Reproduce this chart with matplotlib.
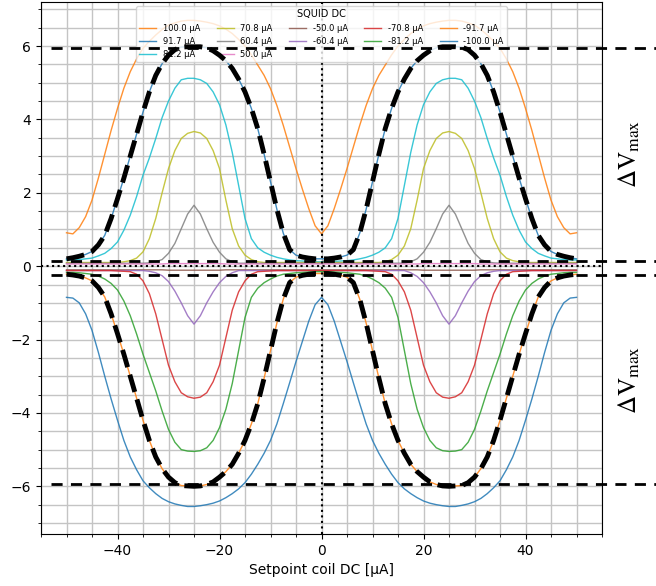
import numpy as np
import matplotlib.pyplot as plt
from matplotlib.ticker import AutoMinorLocator

plt.rcParams['mathtext.fontset'] = 'stix'

# setpoint coil current sweep [uA]
setpoint = np.arange(-50, 50.01, 1.25)

labels = ["100.0 µA", "91.7 µA", "81.2 µA", "70.8 µA", "60.4 µA", "50.0 µA",
          "-50.0 µA", "-60.4 µA", "-70.8 µA", "-81.2 µA", "-91.7 µA", "-100.0 µA"]
colors = ["C1", "C0", "C9", "C8", "C7", "C6", "C5", "C4", "C3", "C2", "C1", "C0"]

v_p1000 = [0.91, 0.88, 1.05, 1.35, 1.80, 2.40, 3.05, 3.70, 4.30, 4.85,
           5.30, 5.65, 5.94, 6.13, 6.30, 6.45, 6.57, 6.63, 6.68, 6.70,
           6.70, 6.68, 6.65, 6.61, 6.55, 6.46, 6.34, 6.18, 6.00, 5.76,
           5.48, 5.20, 4.84, 4.38, 3.84, 3.25, 2.66, 2.10, 1.57, 1.10,
           0.88,
           1.10, 1.57, 2.10, 2.66, 3.25, 3.84, 4.38, 4.84, 5.20, 5.48,
           5.76, 6.00, 6.18, 6.34, 6.46, 6.55, 6.61, 6.65, 6.68, 6.70,
           6.70, 6.68, 6.63, 6.57, 6.45, 6.30, 6.13, 5.94, 5.65, 5.30,
           4.85, 4.30, 3.70, 3.05, 2.40, 1.80, 1.35, 1.05, 0.88, 0.91]
v_p917 = [0.20, 0.23, 0.27, 0.32, 0.40, 0.58, 0.84, 1.30, 1.84, 2.40,
          3.00, 3.60, 4.20, 4.75, 5.20, 5.52, 5.75, 5.90, 5.97, 5.98,
          5.98, 5.98, 5.95, 5.87, 5.75, 5.60, 5.39, 5.10, 4.75, 4.30,
          3.75, 3.05, 2.30, 1.55, 0.90, 0.45, 0.30, 0.25, 0.22, 0.20,
          0.20,
          0.20, 0.22, 0.25, 0.30, 0.45, 0.90, 1.55, 2.30, 3.05, 3.75,
          4.30, 4.75, 5.10, 5.39, 5.60, 5.75, 5.87, 5.95, 5.98, 5.98,
          5.98, 5.97, 5.90, 5.75, 5.52, 5.20, 4.75, 4.20, 3.60, 3.00,
          2.40, 1.84, 1.30, 0.84, 0.58, 0.40, 0.32, 0.27, 0.23, 0.20]
v_p812 = [0.17, 0.17, 0.18, 0.20, 0.22, 0.28, 0.35, 0.48, 0.66, 0.98,
          1.39, 1.90, 2.48, 2.95, 3.48, 4.05, 4.50, 4.85, 5.08, 5.12,
          5.12, 5.08, 4.98, 4.75, 4.40, 3.85, 3.10, 2.20, 1.30, 0.75,
          0.50, 0.38, 0.30, 0.24, 0.20, 0.17, 0.15, 0.14, 0.13, 0.12,
          0.12,
          0.12, 0.13, 0.14, 0.15, 0.17, 0.20, 0.24, 0.30, 0.38, 0.50,
          0.75, 1.30, 2.20, 3.10, 3.85, 4.40, 4.75, 4.98, 5.08, 5.12,
          5.12, 5.08, 4.85, 4.50, 4.05, 3.48, 2.95, 2.48, 1.90, 1.39,
          0.98, 0.66, 0.48, 0.35, 0.28, 0.22, 0.20, 0.18, 0.17, 0.17]
v_p708 = [0.10, 0.10, 0.10, 0.10, 0.10, 0.10, 0.10, 0.10, 0.10, 0.12,
          0.15, 0.22, 0.39, 0.75, 1.30, 2.00, 2.66, 3.15, 3.48, 3.62,
          3.67, 3.63, 3.48, 3.15, 2.66, 1.80, 1.02, 0.55, 0.30, 0.18,
          0.12, 0.10, 0.10, 0.10, 0.10, 0.10, 0.10, 0.10, 0.10, 0.10,
          0.10,
          0.10, 0.10, 0.10, 0.10, 0.10, 0.10, 0.10, 0.10, 0.10, 0.12,
          0.18, 0.30, 0.55, 1.02, 1.80, 2.66, 3.15, 3.48, 3.63, 3.67,
          3.62, 3.48, 3.15, 2.66, 2.00, 1.30, 0.75, 0.39, 0.22, 0.15,
          0.12, 0.10, 0.10, 0.10, 0.10, 0.10, 0.10, 0.10, 0.10, 0.10]
v_p604 = [0.08, 0.08, 0.08, 0.08, 0.08, 0.08, 0.08, 0.08, 0.08, 0.08,
          0.08, 0.08, 0.08, 0.09, 0.12, 0.18, 0.35, 0.62, 1.02, 1.42,
          1.66, 1.42, 1.02, 0.65, 0.38, 0.20, 0.12, 0.08, 0.08, 0.08,
          0.08, 0.08, 0.08, 0.08, 0.08, 0.08, 0.08, 0.08, 0.08, 0.08,
          0.08,
          0.08, 0.08, 0.08, 0.08, 0.08, 0.08, 0.08, 0.08, 0.08, 0.08,
          0.08, 0.08, 0.08, 0.12, 0.20, 0.38, 0.65, 1.02, 1.42, 1.66,
          1.42, 1.02, 0.62, 0.35, 0.18, 0.12, 0.09, 0.08, 0.08, 0.08,
          0.08, 0.08, 0.08, 0.08, 0.08, 0.08, 0.08, 0.08, 0.08, 0.08]
v_p500 = [0.06, 0.06, 0.06, 0.06, 0.06, 0.06, 0.06, 0.06, 0.06, 0.06,
          0.06, 0.06, 0.06, 0.06, 0.06, 0.06, 0.07, 0.07, 0.07, 0.07,
          0.07, 0.07, 0.07, 0.07, 0.07, 0.06, 0.06, 0.06, 0.06, 0.06,
          0.06, 0.06, 0.06, 0.06, 0.06, 0.06, 0.06, 0.06, 0.06, 0.06,
          0.06,
          0.06, 0.06, 0.06, 0.06, 0.06, 0.06, 0.06, 0.06, 0.06, 0.06,
          0.06, 0.06, 0.06, 0.06, 0.06, 0.07, 0.07, 0.07, 0.07, 0.07,
          0.07, 0.07, 0.07, 0.07, 0.06, 0.06, 0.06, 0.06, 0.06, 0.06,
          0.06, 0.06, 0.06, 0.06, 0.06, 0.06, 0.06, 0.06, 0.06, 0.06]
v_n500 = [-0.10, -0.10, -0.10, -0.10, -0.10, -0.10, -0.10, -0.10, -0.10, -0.10,
          -0.10, -0.10, -0.10, -0.10, -0.10, -0.10, -0.11, -0.11, -0.11, -0.11,
          -0.11, -0.11, -0.11, -0.11, -0.11, -0.10, -0.10, -0.10, -0.10, -0.10,
          -0.10, -0.10, -0.10, -0.10, -0.10, -0.10, -0.10, -0.10, -0.10, -0.10,
          -0.10,
          -0.10, -0.10, -0.10, -0.10, -0.10, -0.10, -0.10, -0.10, -0.10, -0.10,
          -0.10, -0.10, -0.10, -0.10, -0.10, -0.11, -0.11, -0.11, -0.11, -0.11,
          -0.11, -0.11, -0.11, -0.11, -0.10, -0.10, -0.10, -0.10, -0.10, -0.10,
          -0.10, -0.10, -0.10, -0.10, -0.10, -0.10, -0.10, -0.10, -0.10, -0.10]
v_n604 = [-0.12, -0.12, -0.12, -0.12, -0.12, -0.12, -0.12, -0.12, -0.12, -0.12,
          -0.12, -0.12, -0.12, -0.14, -0.18, -0.26, -0.42, -0.68, -1.00, -1.35,
          -1.58, -1.35, -1.00, -0.70, -0.45, -0.28, -0.18, -0.12, -0.12, -0.12,
          -0.12, -0.12, -0.12, -0.12, -0.12, -0.12, -0.12, -0.12, -0.12, -0.12,
          -0.12,
          -0.12, -0.12, -0.12, -0.12, -0.12, -0.12, -0.12, -0.12, -0.12, -0.12,
          -0.12, -0.12, -0.12, -0.18, -0.28, -0.45, -0.70, -1.00, -1.35, -1.58,
          -1.35, -1.00, -0.68, -0.42, -0.26, -0.18, -0.14, -0.12, -0.12, -0.12,
          -0.12, -0.12, -0.12, -0.12, -0.12, -0.12, -0.12, -0.12, -0.12, -0.12]
v_n708 = [-0.12, -0.12, -0.12, -0.12, -0.12, -0.12, -0.12, -0.12, -0.13, -0.14,
          -0.15, -0.22, -0.40, -0.75, -1.30, -2.00, -2.70, -3.15, -3.45, -3.56,
          -3.60, -3.57, -3.45, -3.15, -2.70, -1.95, -1.20, -0.70, -0.40, -0.22,
          -0.15, -0.14, -0.13, -0.12, -0.12, -0.12, -0.12, -0.12, -0.12, -0.12,
          -0.12,
          -0.12, -0.12, -0.12, -0.12, -0.12, -0.12, -0.12, -0.13, -0.14, -0.15,
          -0.22, -0.40, -0.70, -1.20, -1.95, -2.70, -3.15, -3.45, -3.57, -3.60,
          -3.56, -3.45, -3.15, -2.70, -2.00, -1.30, -0.75, -0.40, -0.22, -0.15,
          -0.14, -0.13, -0.12, -0.12, -0.12, -0.12, -0.12, -0.12, -0.12, -0.12]
v_n812 = [-0.17, -0.17, -0.18, -0.20, -0.22, -0.27, -0.35, -0.47, -0.65, -0.95,
          -1.35, -1.85, -2.40, -2.90, -3.40, -3.95, -4.45, -4.80, -5.00, -5.04,
          -5.05, -5.03, -4.95, -4.75, -4.40, -3.90, -3.20, -2.30, -1.40, -0.85,
          -0.60, -0.45, -0.35, -0.27, -0.22, -0.20, -0.18, -0.17, -0.16, -0.15,
          -0.15,
          -0.15, -0.16, -0.17, -0.18, -0.20, -0.22, -0.27, -0.35, -0.45, -0.60,
          -0.85, -1.40, -2.30, -3.20, -3.90, -4.40, -4.75, -4.95, -5.03, -5.05,
          -5.04, -5.00, -4.80, -4.45, -3.95, -3.40, -2.90, -2.40, -1.85, -1.35,
          -0.95, -0.65, -0.47, -0.35, -0.27, -0.22, -0.20, -0.18, -0.17, -0.17]
v_n917 = [-0.22, -0.24, -0.27, -0.32, -0.40, -0.58, -0.84, -1.30, -1.84, -2.40,
          -3.00, -3.60, -4.20, -4.75, -5.20, -5.52, -5.75, -5.90, -5.98, -5.99,
          -6.00, -5.99, -5.95, -5.88, -5.75, -5.60, -5.40, -5.10, -4.75, -4.30,
          -3.75, -3.05, -2.30, -1.55, -0.90, -0.45, -0.30, -0.25, -0.22, -0.20,
          -0.20,
          -0.20, -0.22, -0.25, -0.30, -0.45, -0.90, -1.55, -2.30, -3.05, -3.75,
          -4.30, -4.75, -5.10, -5.40, -5.60, -5.75, -5.88, -5.95, -5.99, -6.00,
          -5.99, -5.98, -5.90, -5.75, -5.52, -5.20, -4.75, -4.20, -3.60, -3.00,
          -2.40, -1.84, -1.30, -0.84, -0.58, -0.40, -0.32, -0.27, -0.24, -0.22]
v_n1000 = [-0.85, -0.87, -1.00, -1.30, -1.75, -2.35, -3.00, -3.62, -4.20, -4.75,
           -5.20, -5.55, -5.85, -6.04, -6.20, -6.33, -6.42, -6.48, -6.52, -6.55,
           -6.55, -6.53, -6.50, -6.46, -6.40, -6.31, -6.20, -6.07, -5.90, -5.67,
           -5.40, -5.10, -4.75, -4.30, -3.75, -3.18, -2.60, -2.05, -1.50, -1.05,
           -0.85,
           -1.05, -1.50, -2.05, -2.60, -3.18, -3.75, -4.30, -4.75, -5.10, -5.40,
           -5.67, -5.90, -6.07, -6.20, -6.31, -6.40, -6.46, -6.50, -6.53, -6.55,
           -6.55, -6.52, -6.48, -6.42, -6.33, -6.20, -6.04, -5.85, -5.55, -5.20,
           -4.75, -4.20, -3.62, -3.00, -2.35, -1.75, -1.30, -1.00, -0.87, -0.85]

curves = [v_p1000, v_p917, v_p812, v_p708, v_p604, v_p500,
          v_n500, v_n604, v_n708, v_n812, v_n917, v_n1000]
for c in curves:
    assert len(c) == len(setpoint)

# reference levels for delta V max
v_levels = [5.95, 0.15, -0.25, -5.95]

fig = plt.figure(figsize=(6.56, 5.86), dpi=100)
ax = fig.add_axes([41 / 656, 1 - 534 / 586, 561 / 656, 532 / 586])

for vals, lab, col in zip(curves, labels, colors):
    ax.plot(setpoint, vals, color=col, lw=1, alpha=0.85, label=lab)

# highlight the +-91.7 uA curves
ax.plot(setpoint, v_p917, color="k", ls="--", lw=3.5, zorder=6)
ax.plot(setpoint, v_n917, color="k", ls="--", lw=3.5, zorder=6)

for lv in v_levels:
    ax.plot([-53, 75], [lv, lv], color="k", ls=(0, (4, 3)), lw=2, clip_on=False, zorder=6)

ax.axvline(0, color="k", ls=":", lw=1.5)
ax.axhline(0, color="k", ls=":", lw=1.5)

ax.text(60.3, (v_levels[0] + v_levels[1]) / 2, r"$\Delta\mathrm{V}_{\mathrm{max}}$",
        rotation=90, ha="center", va="center", fontsize=18)
ax.text(60.3, (v_levels[2] + v_levels[3]) / 2, r"$\Delta\mathrm{V}_{\mathrm{max}}$",
        rotation=90, ha="center", va="center", fontsize=18)

ax.set_xlim(-55, 55)
ax.set_ylim(-7.3, 7.2)
ax.xaxis.set_minor_locator(AutoMinorLocator())
ax.yaxis.set_minor_locator(AutoMinorLocator())
ax.grid(which="both", color="#c4c4c4", lw=1)
ax.set_axisbelow(True)
ax.set_xlabel("Setpoint coil DC [µA]")

ax.legend(loc="upper center", ncol=5, fontsize=6, title="SQUID DC", title_fontsize=7)

fig.savefig("out.png", dpi=100)
